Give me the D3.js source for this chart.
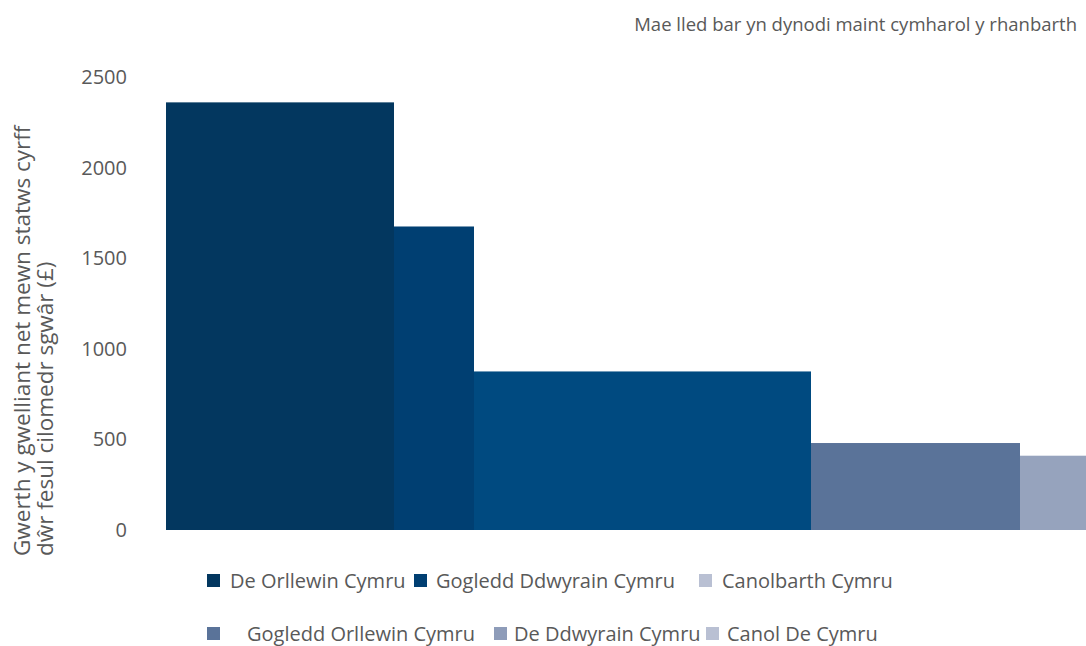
<!DOCTYPE html>
<html>
<head>
<meta charset="utf-8">
<script src="https://cdn.jsdelivr.net/npm/d3@7"></script>
<style>
  html, body { margin: 0; padding: 0; background: #fff; }
  svg { display: block; font-family: "Open Sans", "Noto Sans", sans-serif; }
</style>
</head>
<body>
<svg id="chart" width="1086" height="646"></svg>
<script>
// Regions, in drawing order (highest value first)
const regions = ["De Orllewin Cymru", "Gogledd Ddwyrain Cymru", "Canolbarth Cymru",
                 "Gogledd Orllewin Cymru", "De Ddwyrain Cymru"];
// Net improvement in water body status per square kilometre (£)
const valuePerKm2 = [2360, 1675, 875, 480, 410];
// Relative size of each region (sets bar width)
const regionSize = [228, 80, 337, 209, 100];
const barColors = ["#03375f", "#003f72", "#004a80", "#5a7399", "#96a3bd"];

// Legend entries
const legendLabels = [
  ["De Orllewin Cymru", "Gogledd Ddwyrain Cymru", "Canolbarth Cymru"],
  ["Gogledd Orllewin Cymru", "De Ddwyrain Cymru", "Canol De Cymru"]
];
const legendColors = [
  ["#03375f", "#003f72", "#b9c0d3"],
  ["#5a7399", "#8e9cb9", "#b9c0d3"]
];
const yTicks = [0, 500, 1000, 1500, 2000, 2500];

const svg = d3.select("#chart");
const textColor = "#595959";

const y = d3.scaleLinear().domain([0, 2500]).range([530, 77]);
// Horizontal scale over cumulative region size; the last bar runs past the edge
const x = d3.scaleLinear().domain([0, 920]).range([166, 1086]);

const starts = d3.cumsum([0, ...regionSize]);
const bars = regions.map((r, i) => ({
  name: r, value: valuePerKm2[i], x0: starts[i], x1: starts[i] + regionSize[i], color: barColors[i]
}));

svg.append("g").selectAll("rect").data(bars).join("rect")
  .attr("x", d => x(d.x0))
  .attr("width", d => x(d.x1) - x(d.x0))
  .attr("y", d => y(d.value))
  .attr("height", d => y(0) - y(d.value))
  .attr("fill", d => d.color);

// Y axis: labels only, no line or ticks
const yAxis = svg.append("g")
  .attr("transform", "translate(127,0)")
  .call(d3.axisLeft(y).tickValues(yTicks).tickSize(0).tickPadding(0).tickFormat(d3.format("d")));
yAxis.select(".domain").remove();
yAxis.selectAll("text")
  .attr("fill", textColor)
  .style("font-size", "20px")
  .style("font-family", "\"Open Sans\", sans-serif");

// Axis title, two lines, rotated
const title = svg.append("text")
  .attr("transform", "translate(0,556) rotate(-90)")
  .attr("fill", textColor)
  .style("font-size", "22.5px");
title.append("tspan").attr("x", 0).attr("y", 30).text("Gwerth y gwelliant net mewn statws cyrff");
title.append("tspan").attr("x", 0).attr("y", 53).text("dŵr fesul cilomedr sgwâr (£)");

// Note at top right
svg.append("text")
  .attr("x", 1077).attr("y", 31)
  .attr("text-anchor", "end")
  .attr("fill", textColor)
  .style("font-size", "18.5px")
  .text("Mae lled bar yn dynodi maint cymharol y rhanbarth");

// Legend
const legendRowsY = [581, 634];
const legendItemX = [
  [207, 414, 699],
  [207, 494, 706]
];
const legendTextGap = [[10, 9, 10], [27, 7, 8]];
legendLabels.forEach((row, ri) => {
  row.forEach((label, ci) => {
    const g = svg.append("g")
      .attr("transform", `translate(${legendItemX[ri][ci]},${legendRowsY[ri]})`);
    g.append("rect").attr("x", 0).attr("y", -7).attr("width", 13).attr("height", 13)
      .attr("fill", legendColors[ri][ci]);
    g.append("text").attr("x", 13 + legendTextGap[ri][ci]).attr("y", 0)
      .attr("dy", "0.35em")
      .attr("fill", textColor)
      .style("font-size", "20px")
      .text(label);
  });
});
</script>
</body>
</html>
